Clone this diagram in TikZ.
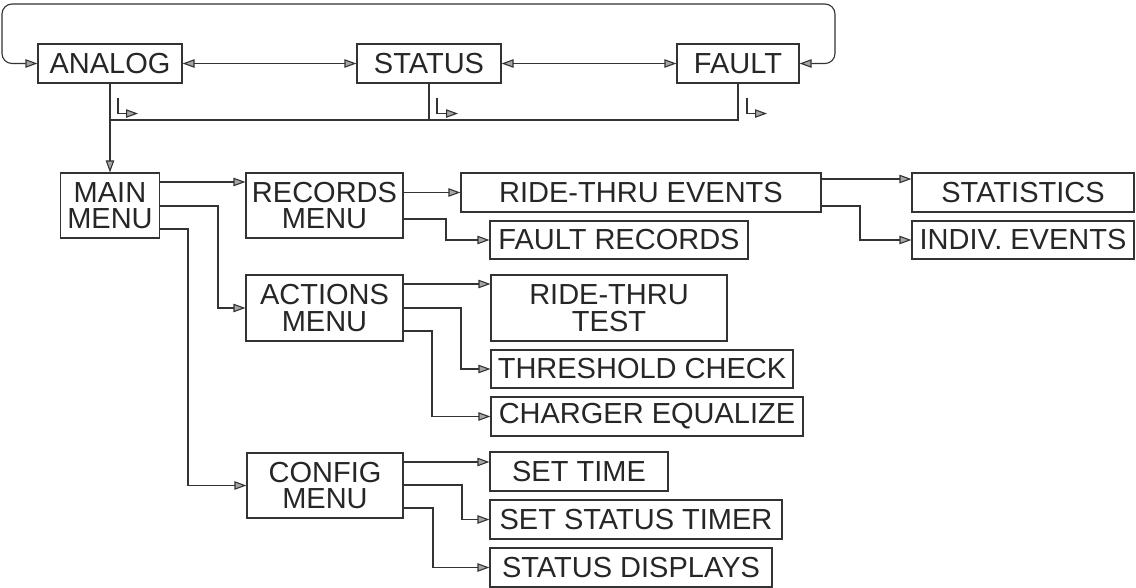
\documentclass[tikz,border=0pt]{standalone}
\usepackage{fontspec}
\setmainfont{Liberation Sans}
\usetikzlibrary{arrows.meta}
\begin{document}
\begin{tikzpicture}[x=0.5pt,y=-0.5pt,line width=0.55pt,draw=black!80,
    menubox/.style={draw,inner sep=0pt,align=center,text=black!85,font=\fontsize{14.5}{13.3}\selectfont},
    arr/.style={-{Triangle[length=6pt,width=4.2pt,fill=gray!70]}},
    arrr/.style={{Triangle[length=6pt,width=4.2pt,fill=gray!70]}-{Triangle[length=6pt,width=4.2pt,fill=gray!70]}}]
        \useasboundingbox(0,0)rectangle(1136,588);
        % top row
        \node[menubox,minimum width=72pt,minimum height=19.5pt](analog)at(110,63.5){ANALOG};
        \node[menubox,minimum width=72pt,minimum height=19.5pt](status)at(429,63.5){STATUS};
        \node[menubox,minimum width=61pt,minimum height=19.5pt](fault)at(738,63.5){FAULT};
        % menus
        \node[menubox,minimum width=49.5pt,minimum height=32.5pt](main)at(110,205.5){MAIN\\MENU};
        \node[menubox,minimum width=78.5pt,minimum height=32.5pt](rec)at(324.5,205.5){RECORDS\\MENU};
        \node[menubox,minimum width=78.5pt,minimum height=33pt](act)at(324.5,308){ACTIONS\\MENU};
        \node[menubox,minimum width=78pt,minimum height=32.5pt](cfg)at(325,485.5){CONFIG\\MENU};
        % items
        \node[menubox,minimum width=180pt,minimum height=19.5pt](rte)at(641,192.5){RIDE-THRU EVENTS};
        \node[menubox,minimum width=129pt,minimum height=19pt](frec)at(619,240){FAULT RECORDS};
        \node[menubox,minimum width=111pt,minimum height=19.5pt](stat)at(1023,192.5){STATISTICS};
        \node[menubox,minimum width=111pt,minimum height=19pt](indiv)at(1023,240){INDIV. EVENTS};
        \node[menubox,minimum width=118pt,minimum height=33pt](rtt)at(609,308){RIDE-THRU\\TEST};
        \node[menubox,minimum width=151pt,minimum height=19pt](thr)at(642,369){THRESHOLD CHECK};
        \node[menubox,minimum width=156pt,minimum height=19.5pt](chg)at(647,416.5){CHARGER EQUALIZE};
        \node[menubox,minimum width=89pt,minimum height=19.5pt](stime)at(579,471.5){SET TIME};
        \node[menubox,minimum width=146pt,minimum height=19.5pt](stimer)at(636,519.5){SET STATUS TIMER};
        \node[menubox,minimum width=141pt,minimum height=19.5pt](sdisp)at(631,567.5){STATUS DISPLAYS};
        % loop over the top row
        \coordinate(loopL)at(2,4);
        \coordinate(loopR)at(835,4);
        \draw[arrr,rounded corners=5pt](analog.west)-|(loopL)--(loopR)|-(fault.east);
        \draw[arrr](analog)--(status);
        \draw[arrr](status)--(fault);
        % bus down to the main menu
        \coordinate(bus)at(0,120);
        \draw(fault.south)|-(analog.south|-bus);
        \draw(status.south)--(status.south|-bus);
        \draw[arr](analog.south)--(main.north);
        \draw[arr](analog.south)++(8,14)|-++(20,16);
        \draw[arr](status.south)++(8,14)|-++(21,16);
        \draw[arr](fault.south)++(9,14)|-++(20,16);
        % main menu
        \draw[arr](main.east|-0,182)--(rec.west|-0,182);
        \draw[arr](main.east|-0,206)--(218,206)|-(act.west);
        \draw[arr](main.east|-0,229)--(188,229)|-(cfg.west);
        % records menu
        \draw[arr](rec.east|-rte.west)--(rte.west);
        \draw[arr](rec.east|-0,219)--(446,219)|-(frec.west);
        \draw[arr](rte.east|-0,179)--(stat.west|-0,179);
        \draw[arr](rte.east|-0,206)--(860,206)|-(indiv.west);
        % actions menu
        \draw[arr](act.east|-0,284)--(rtt.west|-0,284);
        \draw[arr](act.east|-0,308)--(461,308)|-(thr.west);
        \draw[arr](act.east|-0,331)--(432,331)|-(chg.west);
        % config menu
        \draw[arr](cfg.east|-0,462)--(stime.west|-0,462);
        \draw[arr](cfg.east|-0,485)--(462,485)|-(stimer.west);
        \draw[arr](cfg.east|-0,508)--(433,508)|-(sdisp.west);
    \end{tikzpicture}
\end{document}
